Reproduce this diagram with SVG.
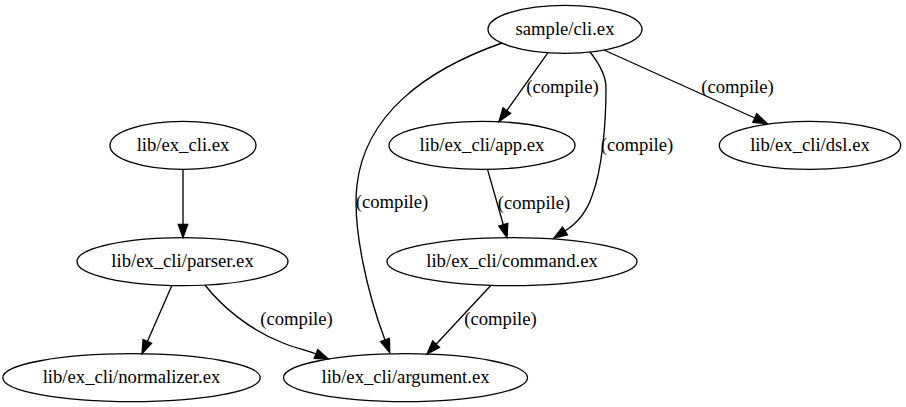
<svg xmlns="http://www.w3.org/2000/svg" width="906" height="407" viewBox="0 0 906 407">
<style>
.shape{fill:none;stroke:#000;stroke-width:1.33}
.wire{fill:none;stroke:#000;stroke-width:1.33}
.head{fill:#000;stroke:#000;stroke-width:1.33}
.lbl{font-family:'Liberation Serif','Times New Roman',serif !important;font-size:18.67px;fill:#000;text-anchor:middle}
</style>
<rect width="906" height="407" fill="#fff"/>
<g id="connectors">
<line class="wire" x1="183" y1="169.4" x2="183" y2="224.3"/>
<polygon class="head" points="178.3,224.3 187.7,224.3 183,237.6"/>
<line class="wire" x1="172" y1="285.3" x2="147.4" y2="341.4"/>
<polygon class="head" points="151.6,343.3 143.1,339.5 142,353.6"/>
<path class="wire" d="M205,285 C222,307 250,330 283,343 C294,348 305,349.4 316,354"/>
<polygon class="head" points="314.2,358.3 317.8,349.7 328.3,359.1"/>
<text class="lbl" x="296.5" y="324.6" font-family="Liberation Serif">(compile)</text>
<line class="wire" x1="491" y1="285.3" x2="436.1" y2="344.2"/>
<polygon class="head" points="439.5,347.4 432.7,341.0 427,354"/>
<text class="lbl" x="500.5" y="324.6" font-family="Liberation Serif">(compile)</text>
<path class="wire" d="M502,43 C425,70 365,115 357,185 C352,228 368,295 385,340"/>
<polygon class="head" points="389.4,338.4 380.6,341.6 389.7,352.5"/>
<text class="lbl" x="392" y="207.6" font-family="Liberation Serif">(compile)</text>
<line class="wire" x1="548" y1="52.7" x2="506.8" y2="110.6"/>
<polygon class="head" points="510.6,113.3 503.0,107.9 499,121.5"/>
<text class="lbl" x="562.5" y="92.6" font-family="Liberation Serif">(compile)</text>
<path class="wire" d="M590,52 C598,62 606,75 606,88 C606,125 602,170 592,196 C586,214 576,224 565,231"/>
<polygon class="head" points="567.5,234.9 562.5,227.1 553.75,238.2"/>
<text class="lbl" x="637" y="150.6" font-family="Liberation Serif">(compile)</text>
<line class="wire" x1="604" y1="50" x2="754.8" y2="118"/>
<polygon class="head" points="752.9,122.3 756.7,113.7 767,123.5"/>
<text class="lbl" x="737.5" y="92.6" font-family="Liberation Serif">(compile)</text>
<line class="wire" x1="487.5" y1="169.4" x2="503.3" y2="224.8"/>
<polygon class="head" points="507.8,223.5 498.8,226.1 507,237.6"/>
<text class="lbl" x="534" y="208.6" font-family="Liberation Serif">(compile)</text>
</g>
<g id="sample-cli">
<ellipse class="shape" cx="565" cy="29.3" rx="77" ry="24"/>
<text class="lbl" x="565" y="35" font-family="Liberation Serif">sample/cli.ex</text>
</g>
<g id="ex-cli">
<ellipse class="shape" cx="183" cy="145.4" rx="73" ry="24"/>
<text class="lbl" x="183" y="151" font-family="Liberation Serif">lib/ex_cli.ex</text>
</g>
<g id="app">
<ellipse class="shape" cx="482" cy="145.4" rx="93" ry="24"/>
<text class="lbl" x="482" y="151" font-family="Liberation Serif">lib/ex_cli/app.ex</text>
</g>
<g id="dsl">
<ellipse class="shape" cx="810" cy="145.4" rx="90.7" ry="24"/>
<text class="lbl" x="810" y="151" font-family="Liberation Serif">lib/ex_cli/dsl.ex</text>
</g>
<g id="parser">
<ellipse class="shape" cx="182.5" cy="261.6" rx="105.5" ry="24"/>
<text class="lbl" x="182.5" y="267.2" font-family="Liberation Serif">lib/ex_cli/parser.ex</text>
</g>
<g id="command">
<ellipse class="shape" cx="512" cy="261.6" rx="125" ry="24"/>
<text class="lbl" x="512" y="267.2" font-family="Liberation Serif">lib/ex_cli/command.ex</text>
</g>
<g id="normalizer">
<ellipse class="shape" cx="131.5" cy="377.7" rx="128.7" ry="24"/>
<text class="lbl" x="131.5" y="383.3" font-family="Liberation Serif">lib/ex_cli/normalizer.ex</text>
</g>
<g id="argument">
<ellipse class="shape" cx="405.5" cy="377.7" rx="122" ry="24"/>
<text class="lbl" x="405.5" y="383.3" font-family="Liberation Serif">lib/ex_cli/argument.ex</text>
</g>
</svg>
